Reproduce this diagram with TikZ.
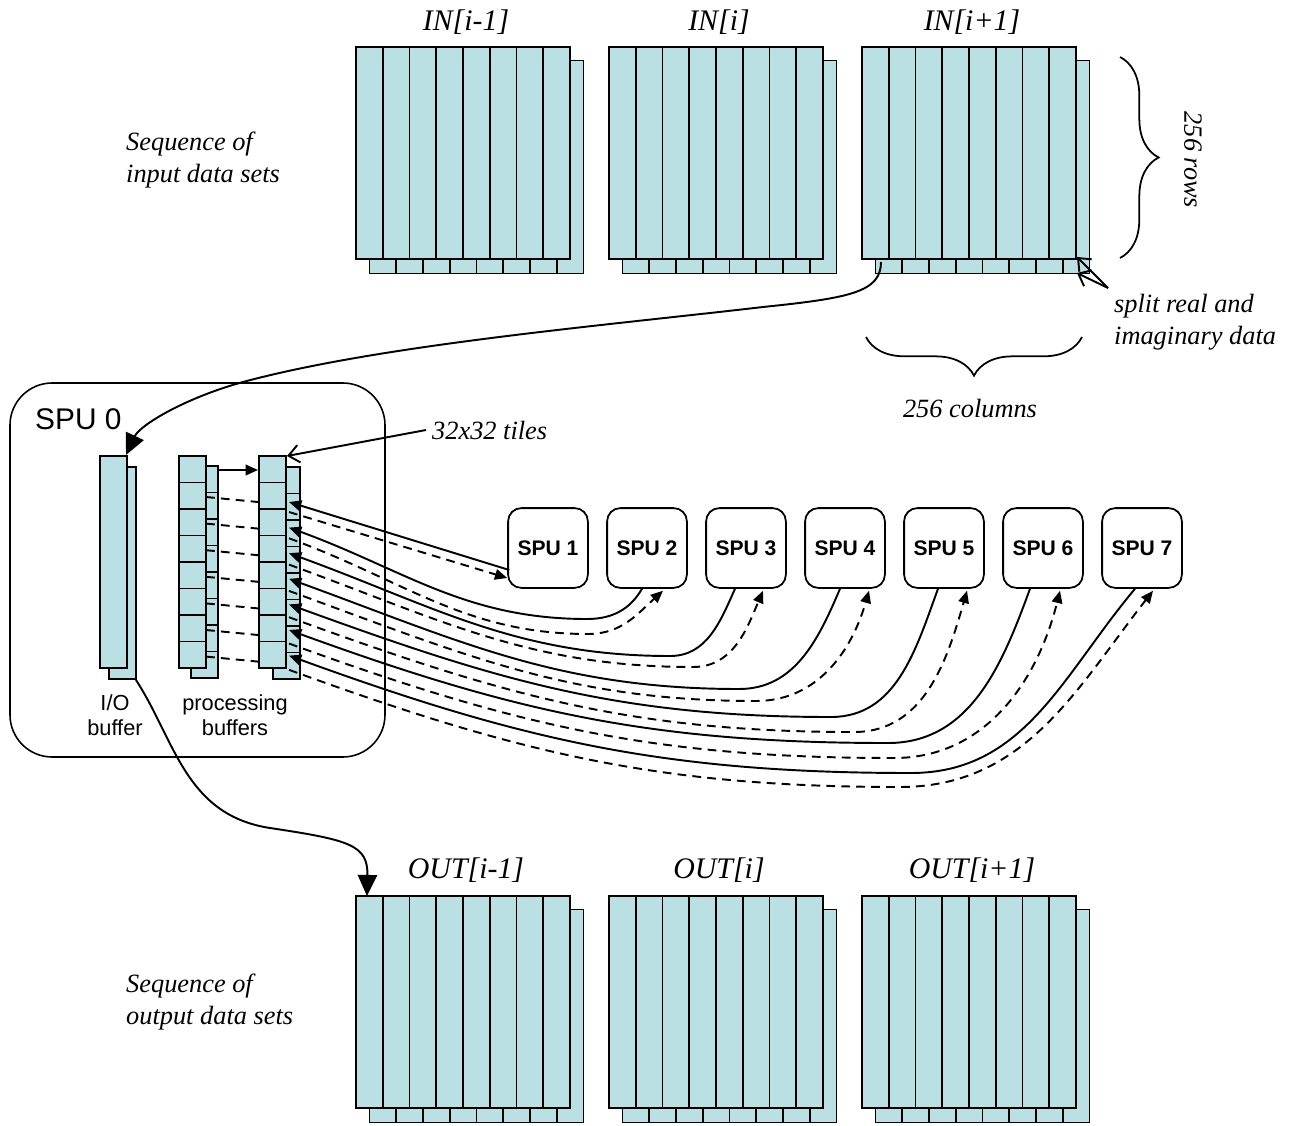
\documentclass[tikz,border=0pt]{standalone}
\usepackage{fontspec}
\setmainfont{Liberation Serif}
\setsansfont{Liberation Sans}
\usetikzlibrary{arrows.meta,positioning,calc,decorations.pathreplacing}
\definecolor{cellfill}{HTML}{BBE0E3}

\begin{document}
\begin{tikzpicture}[x=0.02cm,y=-0.02cm,
  cell/.style={draw,fill=cellfill,line width=.9pt},
  conn/.style={line width=1.1pt},
  dashconn/.style={line width=1.1pt,dash pattern=on 5pt off 3.5pt},
  tipsmall/.style={-{Triangle[length=7pt,width=6pt]}},
  tipbig/.style={-{Triangle[length=12pt,width=11pt]}},
  tipopen/.style={-{Straight Barb[length=6pt,width=10pt]}},
  spubox/.style={draw,line width=1pt,rounded corners=7.5pt,minimum size=45.4pt,
    font=\sffamily\bfseries\fontsize{12}{14}\selectfont},
  notelab/.style={font=\itshape\fontsize{15}{18}\selectfont,align=left},
  setlab/.style={font=\itshape\fontsize{17}{20}\selectfont},
  buflab/.style={font=\sffamily\fontsize{12.4}{14}\selectfont,align=center}]
\useasboundingbox (0,0) rectangle (1289,1126);

% input and output data sets
\foreach \X/\lab [count=\n] in {356/{IN[i-1]},609/{IN[i]},862/{IN[i+1]}}{
  \foreach \c in {0,...,7} \draw[cell] (\X+13.5+26.75*\c,60.5) rectangle ++(26.75,213);
  \foreach \c in {0,...,7} \draw[cell] (\X+26.75*\c,47) rectangle ++(26.75,212);
  \node[setlab] (inlab\n) at (\X+110,22) {\lab};
}
\foreach \X/\lab [count=\n] in {356/{OUT[i-1]},609/{OUT[i]},862/{OUT[i+1]}}{
  \foreach \c in {0,...,7} \draw[cell] (\X+13.5+26.75*\c,909.5) rectangle ++(26.75,213);
  \foreach \c in {0,...,7} \draw[cell] (\X+26.75*\c,896) rectangle ++(26.75,212);
  \node[setlab] (outlab\n) at (\X+110,870) {\lab};
}
\node[notelab,anchor=west] (inseq) at (120,160) {Sequence of\\input data sets};
\node[notelab,anchor=west] (outseq) at (120,1002) {Sequence of\\output data sets};

% braces
\draw[line width=1pt,decorate,decoration={brace,amplitude=22pt}] (1120,57) -- (1120,258);
\node[notelab,rotate=-90] (rowslab) at (1193,160) {256 rows};
\draw[line width=1pt,decorate,decoration={brace,amplitude=22pt}] (1082,337) -- (866,337);
\node[notelab] (colslab) at (970,409) {256 columns};
\node[notelab,anchor=north west] (split) at (1108,288) {split real and\\imaginary data};
\coordinate (frontcorner) at (1077,257);
\coordinate (backcorner) at (1077,273);
\draw[conn,tipopen] (split.north west) -- (frontcorner);
\draw[conn,tipopen] (split.north west) -- (backcorner);

% SPU 0
\draw[line width=.9pt,rounded corners=24pt] (10,383) rectangle (385,757);
\node[font=\sffamily\fontsize{17}{20}\selectfont,anchor=west] (spu0lab) at (29,419) {SPU 0};
\draw[cell] (109,467) rectangle ++(27,212);
\draw[cell] (100,456) rectangle ++(27,212);
\foreach \bx/\ox/\oy in {179/12/10,259/14/11}{
  \foreach \c in {0,...,7} \draw[cell] (\bx+\ox,456+\oy+26.5*\c) rectangle ++(27,26.5);
  \foreach \c in {0,...,7} \draw[cell] (\bx,456+26.5*\c) rectangle ++(27,26.5);
}
\node[buflab] (iolab) at (115,715) {I/O\\buffer};
\node[buflab] (proclab) at (235,715) {processing\\buffers};
\node[notelab,anchor=west] (tiles) at (426,430) {32x32 tiles};

\coordinate (iotop) at (126,455);
\coordinate (iobot) at (136,680);
\coordinate (inio) at (881,262);
\coordinate (outtop) at (367,896);
\coordinate (atop) at (218,470);
\coordinate (btop) at (258,470);
\coordinate (bcorner) at (287,456);
\foreach \k in {1,...,7}{
  \coordinate (sol\k) at (289,502+25.6*\k-25.6);
  \coordinate (das\k) at (289,512+26.3*\k-26.3);
  \coordinate (ta\k) at (206,497+26.6*\k-26.6);
  \coordinate (tb\k) at (258,502+26.6*\k-26.6);
}

% SPU 1 to 7
\foreach \k in {1,...,7} \node[spubox] (spu\k) at (548+99*\k-99,548) {SPU \k};

% connectors
\draw[conn,tipopen] (tiles.west) -- (bcorner);
\draw[conn,tipsmall] (atop) -- (btop);
\foreach \k in {1,...,7} \draw[dashconn] (ta\k) -- (tb\k);
\draw[conn,tipsmall] ($(spu1.west)+(2,22)$) -- (sol1);
\draw[dashconn,tipsmall] (das1) -- ($(spu1.west)+(0,30)$);
\foreach \k/\so/\sa/\sbx/\sby/\dto/\da/\dbx/\dby in {
  2/-5/-120/587/619/16/-138/588/634,
  3/-11/-114/670/656/17/-113/693/667,
  4/-5/-113/739/689/24/-106/756/701,
  5/-6/-110/831/717/23/-106/854/732,
  6/-13/-110/888/743/17/-104/894/758,
  7/-7/-130/911/773/11/-128/900/787}{
  \draw[conn,tipsmall] ($(spu\k.south)+(\so,0)$) to[out=\sa,in=0] (\sbx,\sby) to[out=180,in=-20] (sol\k);
  \draw[dashconn,tipsmall] (das\k) to[out=-20,in=180] (\dbx,\dby) to[out=0,in=\da] ($(spu\k.south)+(\dto,2)$);
}
\draw[conn,tipbig] (inio) .. controls (881,292) and (850,298) .. (763,307)
  .. controls (600,326) and (380,345) .. (243,382)
  .. controls (185,398) and (140,425) .. (iotop);
\draw[conn,tipbig] (iobot) .. controls (175,740) and (185,815) .. (270,828)
  .. controls (350,840) and (368,845) .. (outtop);
\end{tikzpicture}
\end{document}
